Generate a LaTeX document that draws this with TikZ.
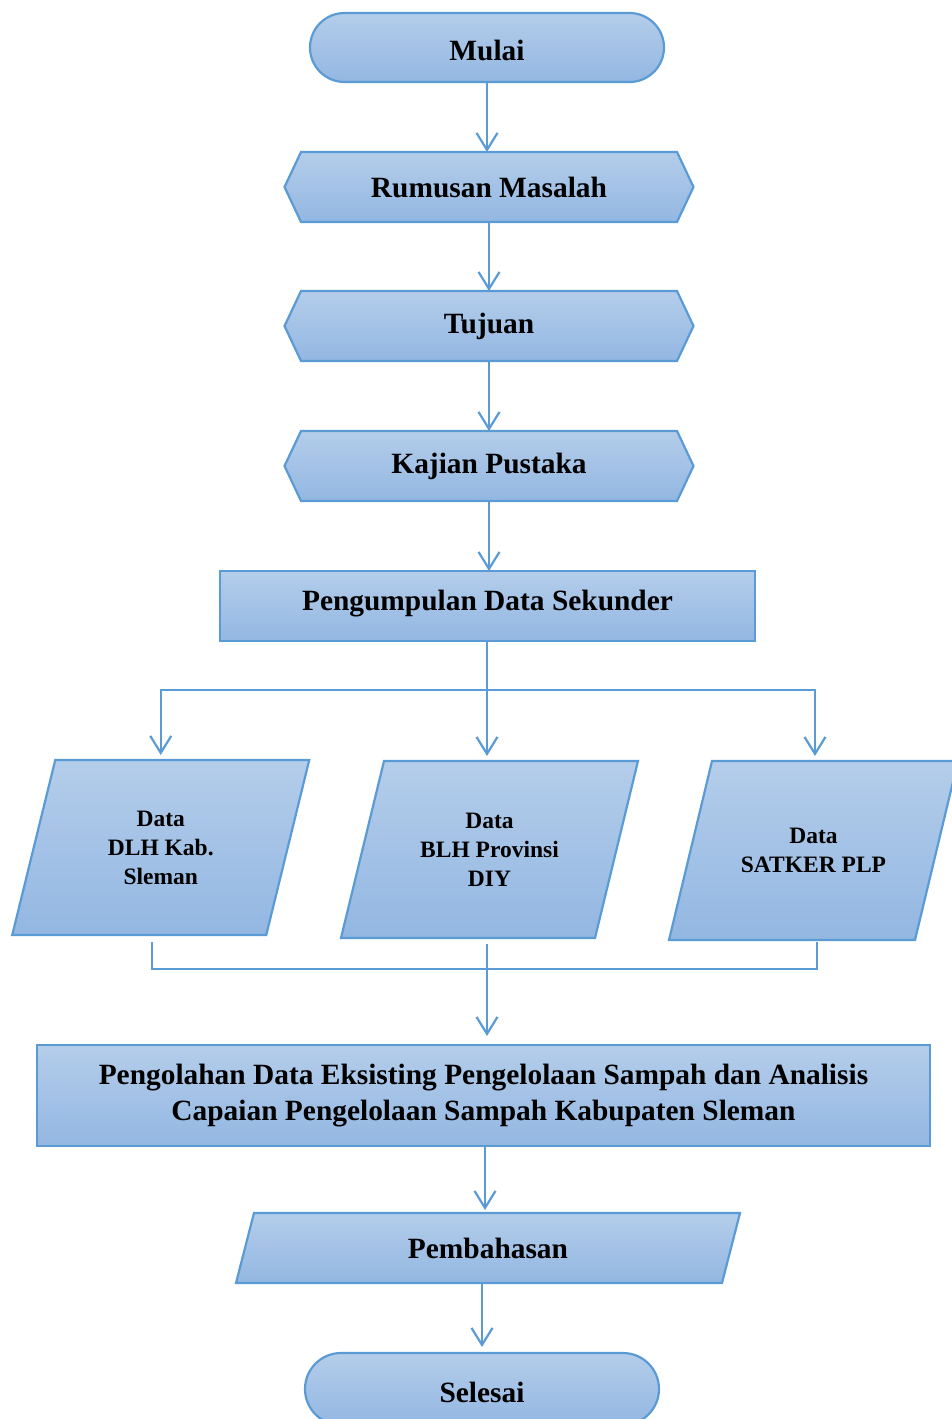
\documentclass[tikz,border=0pt]{standalone}
\usepackage{fontspec}
\setmainfont{Liberation Serif}
\usetikzlibrary{shapes.misc,arrows.meta,backgrounds,calc}
\definecolor{bline}{HTML}{5B9BD5}
\definecolor{ftop}{HTML}{B4CDEA}
\definecolor{fbot}{HTML}{93B7E2}
\tikzset{
  shapefill/.style={draw=bline, line width=2.2pt, top color=ftop, bottom color=fbot, line join=miter},
  term/.style={rounded rectangle, shapefill, minimum width=354pt, inner sep=0pt, outer sep=0pt,
    font=\fontsize{29.4}{34}\selectfont\bfseries},
  holder/.style={rectangle, inner sep=0pt, outer sep=0pt, align=center,
    font=\fontsize{29.4}{36}\selectfont\bfseries},
  sholder/.style={holder, font=\fontsize{23.5}{29}\selectfont\bfseries},
  procbox/.style={rectangle, shapefill, inner sep=0pt, outer sep=0pt, align=center,
    font=\fontsize{29.4}{36}\selectfont\bfseries},
  conn/.style={draw=bline, line width=2.2pt},
  arr/.style={conn, -{Straight Barb[length=17pt,width=21pt,line width=2.2pt]}},
}
\begin{document}
\begin{tikzpicture}[x=1pt,y=-1pt]
\useasboundingbox (0,0) rectangle (952,1419);

% nodes
\node[term, minimum height=69pt, text height=26pt, text depth=0pt] (mulai) at (487,47.5) {Mulai};
\node[holder, minimum width=376pt, minimum height=70pt] (rum) at (489,187) {Rumusan Masalah};
\node[holder, minimum width=376pt, minimum height=70pt] (tuj) at (489,326) {Tujuan};
\node[holder, minimum width=376pt, minimum height=70pt] (kaj) at (489,466) {Kajian Pustaka};
\node[procbox, minimum width=535pt, minimum height=70pt, text height=18pt, text depth=9pt] (peng) at (487.5,606) {Pengumpulan Data Sekunder};
\node[sholder, minimum width=254pt, minimum height=175pt] (p1) at (160.75,847.5) {Data\\DLH Kab.\\Sleman};
\node[sholder, minimum width=254pt, minimum height=177pt] (p2) at (489.5,849.5) {Data\\BLH Provinsi\\DIY};
\node[sholder, minimum width=246pt, minimum height=179pt] (p3) at (813.5,850.5) {Data\\SATKER PLP};
\node[procbox, minimum width=893pt, minimum height=101pt] (olah) at (483.5,1095.5)
  {Pengolahan Data Eksisting Pengelolaan Sampah dan Analisis\\Capaian Pengelolaan Sampah Kabupaten Sleman};
\node[holder, minimum width=486pt, minimum height=70pt] (bahas) at (488,1248) {Pembahasan};
\node[term, minimum height=72pt, text height=27pt, text depth=0pt] (selesai) at (482,1389) {Selesai};

% shapes behind text
\begin{scope}[on background layer]
  \foreach \n in {rum,tuj,kaj}{
    \path[shapefill] (\n.north west) -- (\n.north east) -- ([xshift=16.5pt]\n.east)
      -- (\n.south east) -- (\n.south west) -- ([xshift=-16.5pt]\n.west) -- cycle;
  }
  \foreach \n/\s in {p1/21.5,p2/21.5,p3/21.5,bahas/9}{
    \path[shapefill] ([xshift=\s pt]\n.north west) -- ([xshift=\s pt]\n.north east)
      -- ([xshift=-\s pt]\n.south east) -- ([xshift=-\s pt]\n.south west) -- cycle;
  }
\end{scope}

% connectors
\draw[arr] (mulai.south) -- (mulai.south |- rum.north);
\draw[arr] (rum.south) -- (tuj.north);
\draw[arr] (tuj.south) -- (kaj.north);
\draw[arr] (kaj.south) -- (kaj.south |- peng.north);

\coordinate (j) at (487,690);
\draw[conn] (peng.south -| j) -- (j);
\draw[arr, shorten >=5pt] (j) -| (p1.north);
\draw[arr, shorten >=5pt] (j) -- (j |- p2.north);
\draw[arr, shorten >=5pt] (j) -| ([xshift=1.5pt]p3.north);

\coordinate (b1) at (152,942);
\coordinate (b2) at (487,944);
\coordinate (b3) at (817,942);
\coordinate (m) at (487,969);
\draw[conn] (b1) |- (m) -| (b3);
\draw[arr, shorten >=9pt] (b2) -- (b2 |- olah.north);

\draw[arr, shorten >=3pt] ([xshift=1.5pt]olah.south) -- ([xshift=1.5pt]olah.south |- bahas.north);
\draw[arr, shorten >=6pt] (bahas.south -| selesai.north) -- (selesai.north);
\end{tikzpicture}
\end{document}
